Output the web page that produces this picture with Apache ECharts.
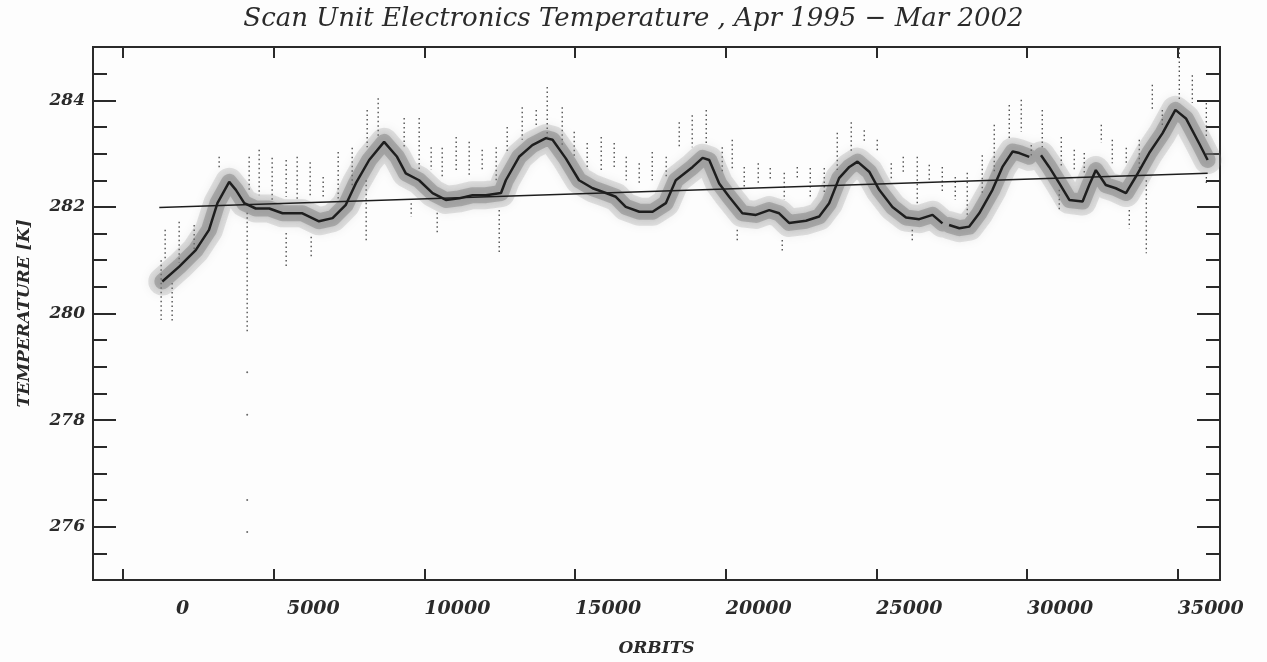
<!DOCTYPE html>
<html>
<head>
<meta charset="utf-8">
<title>Scan Unit Electronics Temperature</title>
<script src="https://cdn.jsdelivr.net/npm/echarts@6/dist/echarts.min.js"></script>
<style>
  html, body { margin: 0; padding: 0; background: #fdfdfd; }
  #chart { width: 1267px; height: 662px; }
</style>
</head>
<body>
<div id="chart"></div>
<script>
// smoothed temperature (null = break in the curve)
const smoothOrbits = [1300, 1860, 2410, 2850, 3130, 3520, 3740, 4020, 4400, 4850, 5290, 5950,
  6500, 6950, 7390, 7720, 8165, 8660, 9090, 9380, 9820, 10270, 10710, 11150, 11590, 12040,
  12540, 12700, 13140, 13580, 14030, 14250, 14690, 15130, 15580, 16020, 16350, 16680, 17130,
  17570, 18010, 18340, 18900, 19230, 19450, 19780, 20110, 20550, 21000, 21440, 21770, 22100,
  22660, 23100, 23430, 23760, 24100, 24370, 24760, 25090, 25530, 25980, 26420, 26860, 27190,
  27300, 27410, 27750, 28080, 28410, 28850, 29180, 29520, 29740, 30070, 30250, 30460, 30730,
  31070, 31400, 31840, 32060, 32280, 32610, 32940, 33280, 33610, 34050, 34490, 34920, 35270,
  35710, 35990];
const smoothTemps = [280.60, 280.88, 281.19, 281.57, 282.07, 282.47, 282.32, 282.07, 281.97,
  281.97, 281.88, 281.88, 281.73, 281.79, 282.04, 282.44, 282.88, 283.22, 282.94, 282.63,
  282.50, 282.26, 282.13, 282.16, 282.22, 282.22, 282.26, 282.50, 282.94, 283.16, 283.29,
  283.26, 282.91, 282.50, 282.35, 282.26, 282.19, 282.00, 281.91, 281.91, 282.07, 282.50,
  282.75, 282.92, 282.88, 282.44, 282.19, 281.88, 281.85, 281.94, 281.88, 281.70, 281.74,
  281.82, 282.07, 282.54, 282.75, 282.85, 282.66, 282.32, 282.00, 281.80, 281.77, 281.85,
  281.69, null, 281.66, 281.60, 281.63, 281.88, 282.32, 282.75, 283.04, 283.01, 282.94, null,
  282.97, 282.75, 282.44, 282.13, 282.10, 282.41, 282.69, 282.41, 282.35, 282.26, 282.57,
  283.01, 283.38, 283.82, 283.66, 283.19, 282.88];

// linear trend
const trendOrbits = [1200, 35990];
const trendTemps = [281.99, 282.63];

// dotted spikes of the raw data: [orbit, high, low]
const spikes = [
  [1394, 281.57, 281.00], [1859, 281.72, 280.95], [2357, 281.66, 281.19], [3186, 282.94, 282.69],
  [4182, 282.94, 282.32], [4514, 283.07, 282.22], [4945, 282.92, 282.13], [5410, 282.88, 282.19],
  [5775, 282.94, 282.13], [6206, 282.84, 282.19], [6638, 282.56, 282.19], [7136, 283.03, 282.13],
  [7601, 283.11, 282.37], [8098, 283.82, 283.12], [8463, 284.04, 283.31], [9326, 283.67, 283.12],
  [9824, 283.67, 282.69], [10222, 283.12, 282.69], [10588, 283.11, 282.56], [11052, 283.31, 282.69],
  [11484, 283.22, 282.56], [11915, 283.07, 282.69], [12380, 283.12, 282.50], [12745, 283.50, 283.01],
  [13243, 283.87, 283.26], [13708, 283.82, 283.50], [14073, 284.25, 283.31], [14571, 283.87, 283.12],
  [14969, 283.41, 282.94], [15400, 283.20, 282.69], [15865, 283.31, 282.64], [16296, 283.20, 282.75],
  [16695, 282.94, 282.50], [17126, 282.82, 282.45], [17558, 283.03, 282.50], [18022, 282.94, 282.56],
  [18454, 283.59, 283.12], [18885, 283.72, 283.12], [19350, 283.82, 283.20], [19881, 283.12, 282.64],
  [20213, 283.26, 282.69], [20611, 282.75, 282.37], [21076, 282.82, 282.45], [21474, 282.73, 282.50],
  [21939, 282.64, 282.13], [22371, 282.75, 282.50], [22802, 282.73, 282.19], [23267, 282.73, 282.26],
  [23698, 283.39, 282.69], [24162, 283.59, 283.01], [24594, 283.44, 283.20], [25025, 283.26, 283.01],
  [25490, 282.82, 282.50], [25888, 282.94, 282.64], [26353, 282.94, 282.07], [26751, 282.79, 282.50],
  [27183, 282.75, 282.26], [27614, 282.56, 282.13], [28012, 282.64, 281.81], [28510, 282.97, 282.26],
  [28908, 283.54, 282.64], [29406, 283.91, 283.26], [29804, 284.01, 283.41], [30136, 283.16, 282.94],
  [30501, 283.82, 283.12], [31132, 283.31, 282.75], [31563, 283.07, 282.69], [31895, 283.01, 282.64],
  [32460, 283.54, 283.20], [32825, 283.26, 282.82], [33289, 283.11, 282.82], [33721, 283.26, 282.69],
  [34153, 284.29, 283.82], [34485, 283.82, 283.50], [35049, 284.98, 284.01], [35481, 284.47, 283.95],
  [35946, 283.95, 283.31],
  // below the band
  [1261, 281.00, 279.88], [1626, 280.57, 279.84], [4116, 281.89, 279.63], [5410, 281.51, 280.87],
  [6240, 281.44, 281.06], [8065, 282.50, 281.32], [9559, 282.07, 281.81], [10422, 281.89, 281.51],
  [12480, 281.94, 281.13], [20379, 281.57, 281.34], [21872, 281.38, 281.15], [26187, 281.57, 281.34],
  [31066, 282.32, 281.94], [33389, 281.94, 281.60], [33954, 282.50, 281.13], [35946, 282.56, 282.41]
];

// isolated low readings
const outliers = [[4116, 278.9], [4116, 278.1], [4116, 276.5], [4116, 275.9]];

const xTicks = [0, 5000, 10000, 15000, 20000, 25000, 30000, 35000];
const yTicks = [276, 278, 280, 282, 284];
const yMinorTicks = [275.5, 276.5, 277, 277.5, 278.5, 279, 279.5, 280.5, 281, 281.5,
  282.5, 283, 283.5, 284.5];

const chart = echarts.init(document.getElementById('chart'));

const ink = '#2a2a2a';
const font = 'DejaVu Serif';
const smoothData = smoothOrbits.map((x, i) => [x, smoothTemps[i] == null ? '-' : smoothTemps[i]]);

function yAxisOf(position, ticks, len, labels) {
  return {
    type: 'value', min: 275, max: 285, position: position,
    axisLine: { show: false, onZero: false },
    splitLine: { show: false },
    axisTick: { inside: true, length: len, customValues: ticks, lineStyle: { color: ink, width: 2 } },
    axisLabel: labels ? {
      customValues: ticks, margin: 8, color: ink, fontFamily: font, fontStyle: 'italic',
      fontWeight: 'bold', fontSize: 17, padding: [8, 0, 0, 0]
    } : { show: false }
  };
}

const option = {
  backgroundColor: '#fdfdfd',
  animation: false,
  title: {
    text: 'Scan Unit Electronics Temperature , Apr 1995 \u2212 Mar 2002',
    left: 'center', top: 1,
    textStyle: { fontFamily: font, fontStyle: 'italic', fontWeight: 'normal', fontSize: 26, color: ink }
  },
  grid: {
    left: 93, right: 47, top: 47, bottom: 82,
    show: true, borderColor: ink, borderWidth: 2, backgroundColor: 'transparent'
  },
  xAxis: [
    {
      type: 'value', min: -1000, max: 36400, position: 'bottom',
      name: 'ORBITS', nameLocation: 'middle', nameGap: 60,
      nameTextStyle: { fontFamily: font, fontStyle: 'italic', fontWeight: 'bold', fontSize: 17, color: ink },
      axisLine: { show: false, onZero: false },
      splitLine: { show: false },
      axisTick: { inside: true, length: 11, customValues: xTicks, lineStyle: { color: ink, width: 2 } },
      axisLabel: {
        customValues: xTicks, margin: 20, align: 'left',
        formatter: v => '{r|' + v + '}',
        rich: { r: { width: 66, align: 'right', fontFamily: font, fontStyle: 'italic', fontWeight: 'bold', fontSize: 19, color: ink } }
      }
    },
    {
      type: 'value', min: -1000, max: 36400, position: 'top',
      axisLine: { show: false, onZero: false },
      splitLine: { show: false },
      axisTick: { inside: true, length: 11, customValues: xTicks, lineStyle: { color: ink, width: 2 } },
      axisLabel: { show: false }
    }
  ],
  yAxis: [
    Object.assign(yAxisOf('left', yTicks, 23, true), {
      name: 'TEMPERATURE [K]', nameLocation: 'middle', nameGap: 60,
      nameTextStyle: { fontFamily: font, fontStyle: 'italic', fontWeight: 'bold', fontSize: 17, color: ink }
    }),
    yAxisOf('left', yMinorTicks, 14, false),
    yAxisOf('right', yTicks, 23, false),
    yAxisOf('right', yMinorTicks, 14, false)
  ],
  series: [
    {
      // soft cloud of the raw samples
      type: 'line', data: smoothData, symbol: 'none', silent: true,
      lineStyle: {
        width: 28, color: 'rgba(130,130,130,0.22)', join: 'round', cap: 'round',
        shadowBlur: 8, shadowColor: 'rgba(130,130,130,0.5)'
      }
    },
    {
      type: 'line', data: smoothData, symbol: 'none', silent: true,
      lineStyle: {
        width: 16, color: 'rgba(110,110,110,0.4)', join: 'round', cap: 'round',
        shadowBlur: 6, shadowColor: 'rgba(110,110,110,0.5)'
      }
    },
    {
      type: 'custom', data: spikes, silent: true,
      renderItem: (params, api) => {
        const top = api.coord([api.value(0), api.value(1)]);
        const bot = api.coord([api.value(0), api.value(2)]);
        return {
          type: 'line',
          shape: { x1: top[0], y1: top[1], x2: bot[0], y2: bot[1] },
          style: { stroke: '#444', lineWidth: 1.3, lineDash: [1.5, 3] }
        };
      }
    },
    {
      type: 'scatter', data: outliers, symbolSize: 2, silent: true,
      itemStyle: { color: '#444' }
    },
    {
      type: 'line', data: smoothData, symbol: 'none', silent: true,
      lineStyle: { width: 2.5, color: '#1e1e1e' }
    },
    {
      type: 'line', data: trendOrbits.map((x, i) => [x, trendTemps[i]]), symbol: 'none', silent: true,
      lineStyle: { width: 1.6, color: '#1e1e1e' }
    }
  ]
};

chart.setOption(option);
</script>
</body>
</html>
